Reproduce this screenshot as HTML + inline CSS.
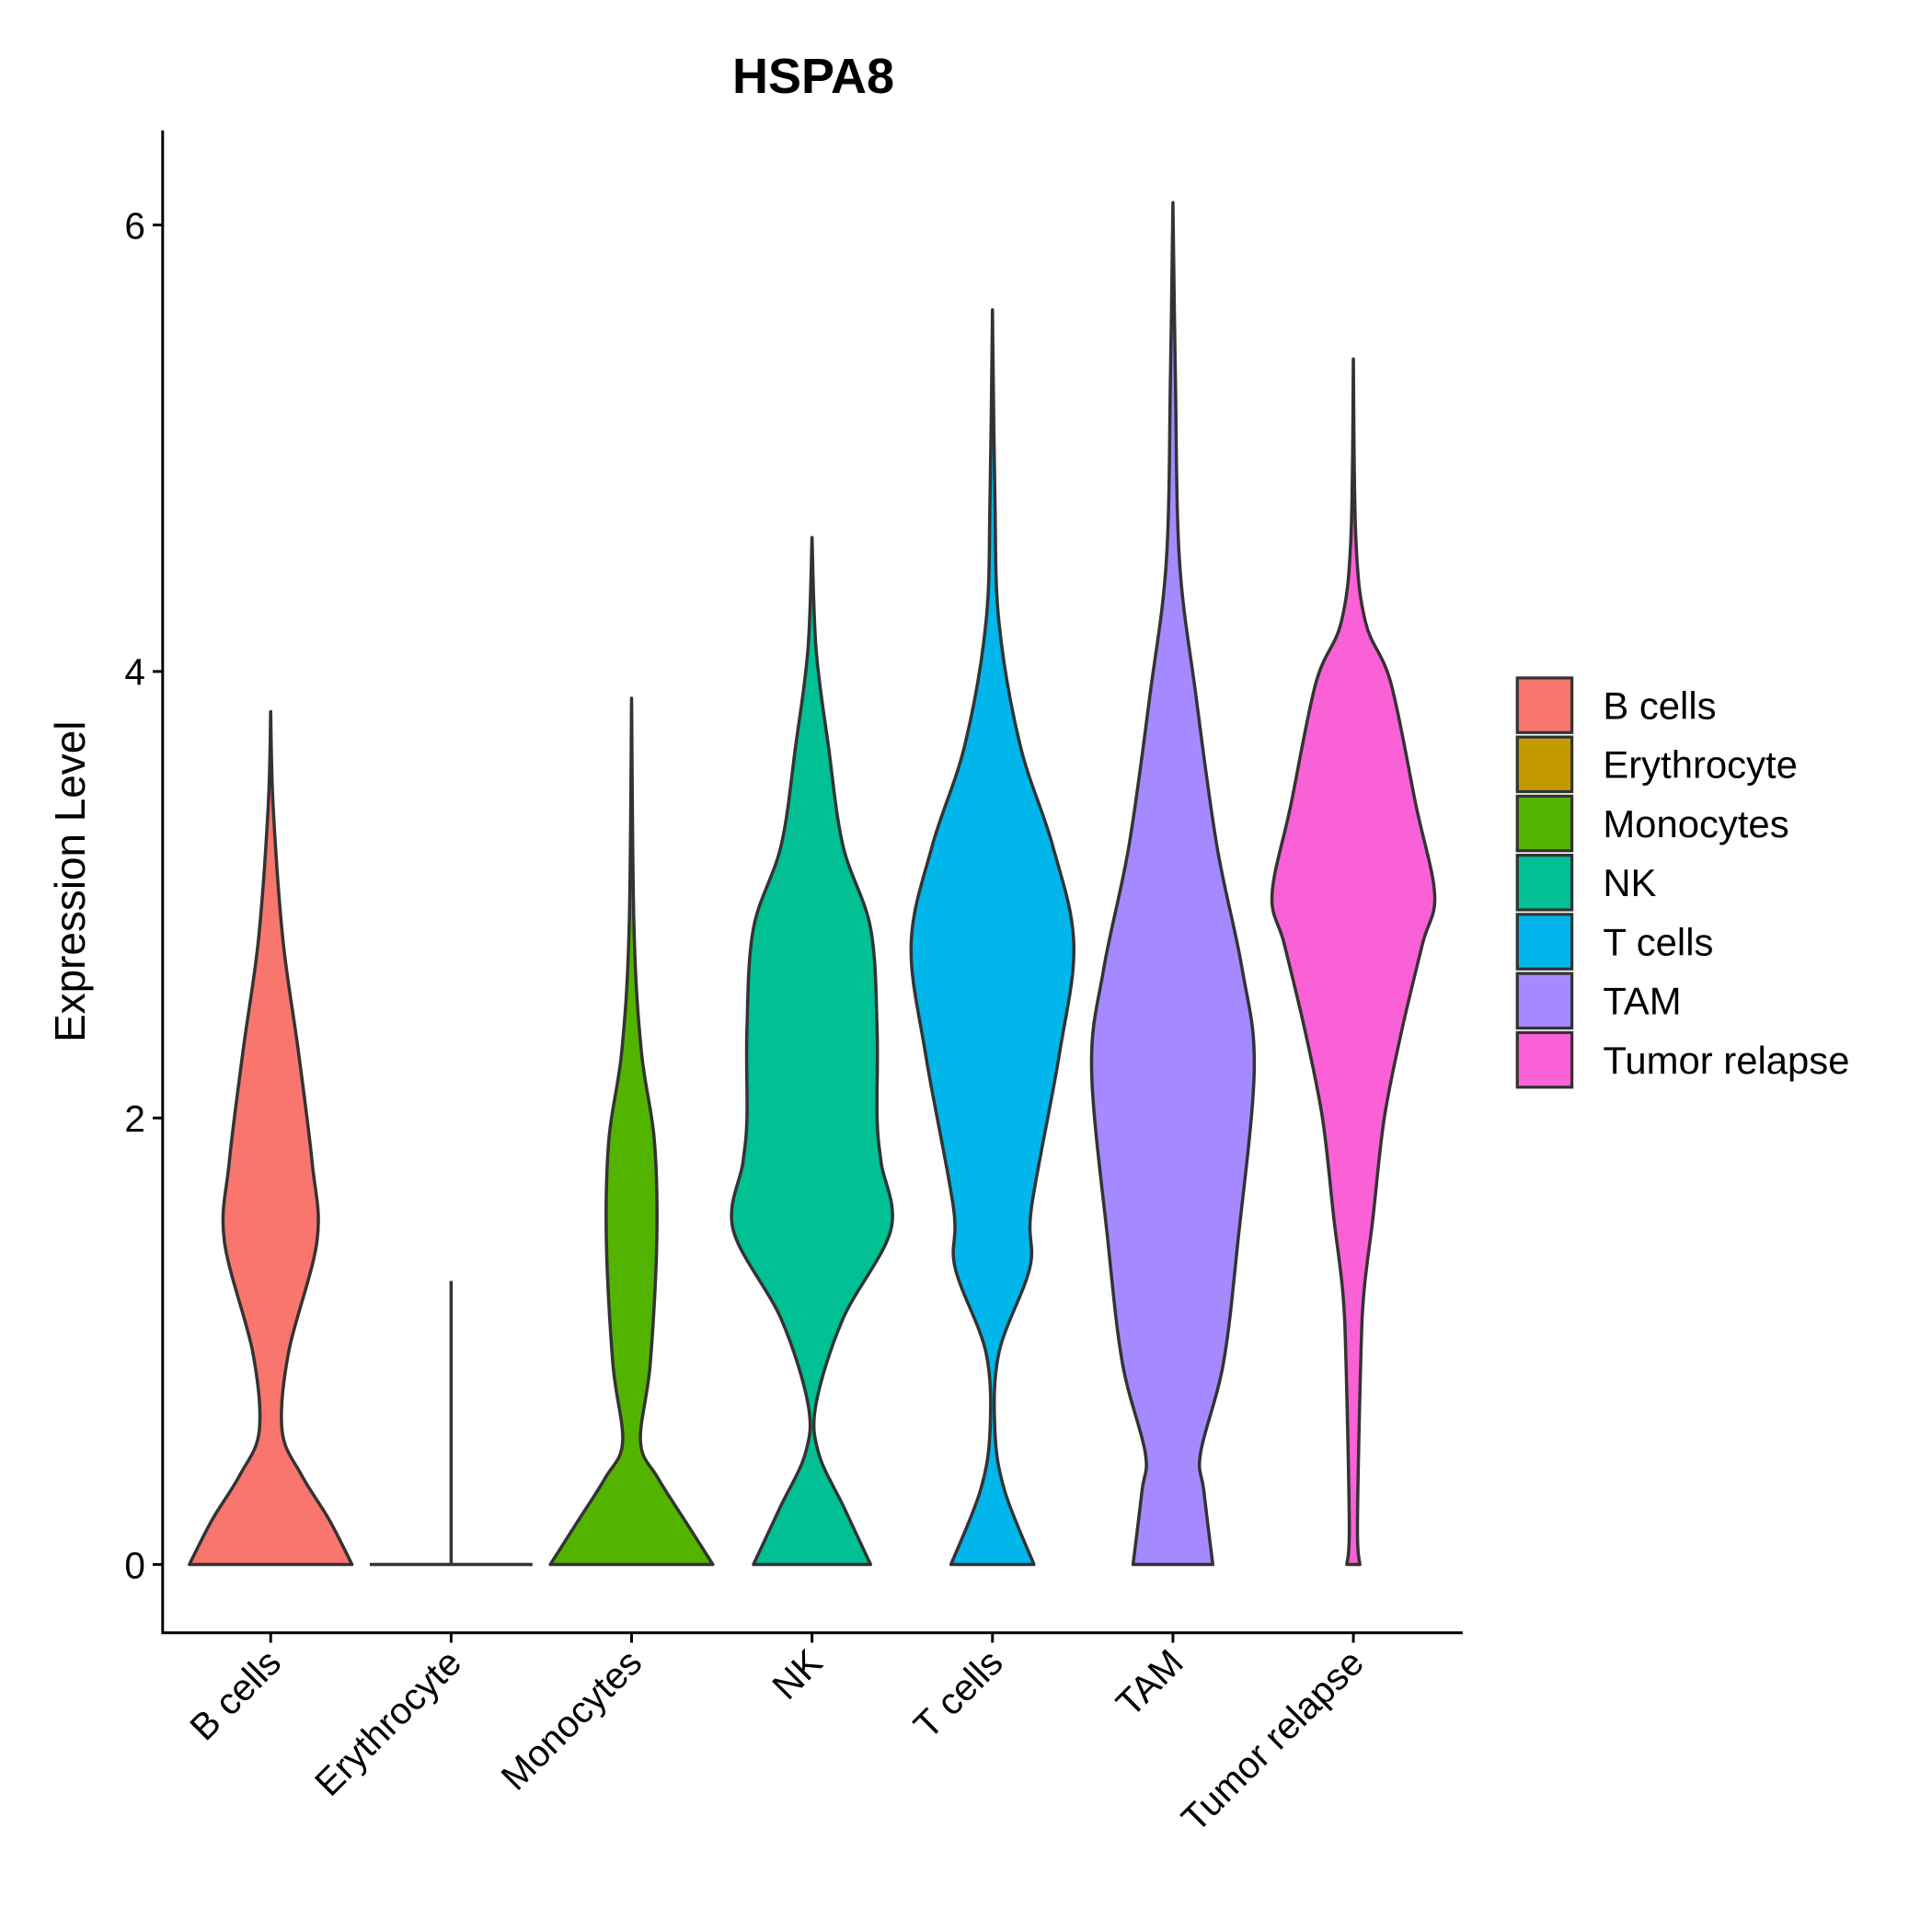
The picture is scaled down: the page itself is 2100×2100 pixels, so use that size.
<!DOCTYPE html>
<html><head><meta charset="utf-8"><style>html,body{margin:0;padding:0;background:#fff}svg{display:block}</style></head>
<body>
<svg id="chart" width="2100" height="2100" viewBox="0 0 1556 1556" xmlns="http://www.w3.org/2000/svg" font-family="'Liberation Sans', sans-serif">
<rect width="1556" height="1556" fill="#fff"/>
<text x="655" y="75" text-anchor="middle" font-size="40" font-weight="bold">HSPA8</text>
<text transform="translate(68,710) rotate(-90)" text-anchor="middle" font-size="34">Expression Level</text>
<g id="plot"></g>
<g id="legend"></g>
</svg>
<script>
const categories=["B cells","Erythrocyte","Monocytes","NK","T cells","TAM","Tumor relapse"];
const colors=["#F8766D","#C49A00","#53B400","#00C094","#00B6EB","#A58AFF","#FB61D7"];
const yTicks=[0,2,4,6];
// profiles: [expression value, relative density half-width (0..1)]
const profB=[[0,1],[0.2,0.72],[0.4,0.38],[0.6,0.14],[0.95,0.22],[1.45,0.57],[1.8,0.51],[2.3,0.34],[2.8,0.15],[3.4,0.03],[3.82,0]];
const profE=[[0,1],[0.001,0.0],[1.27,0]];
const profM=[[0,1],[0.2,0.65],[0.39,0.32],[0.55,0.11],[0.9,0.23],[1.45,0.31],[1.9,0.28],[2.3,0.12],[2.85,0.03],[3.88,0]];
const profNK=[[0,0.72],[0.25,0.4],[0.5,0.08],[0.72,0.05],[1.1,0.38],[1.5,0.97],[1.8,0.85],[2.0,0.8],[2.4,0.8],[2.85,0.72],[3.22,0.38],[3.67,0.2],[4.1,0.05],[4.6,0]];
const profT=[[0,0.51],[0.33,0.15],[0.6,0.03],[0.95,0.08],[1.33,0.46],[1.6,0.48],[2.28,0.82],[2.78,1.0],[3.22,0.74],[3.67,0.34],[4.22,0.08],[4.78,0.03],[5.62,0]];
const profTAM=[[0,0.49],[0.33,0.38],[0.5,0.34],[0.9,0.62],[1.45,0.8],[2.22,1.0],[2.67,0.85],[3.22,0.54],[3.9,0.28],[4.5,0.08],[5.33,0.03],[6.1,0]];
const profTR=[[0,0.08],[0.17,0.05],[0.9,0.09],[1.22,0.13],[1.55,0.24],[2.0,0.38],[2.4,0.6],[2.78,0.85],[3.0,1.0],[3.4,0.77],[3.95,0.46],[4.22,0.15],[4.6,0.03],[5.4,0]];
const profiles=[profB,profE,profM,profNK,profT,profTAM,profTR];

const NS="http://www.w3.org/2000/svg";
const X0=131,X1=1178,YT=105,YB=1315;
const y=v=>1260-v*179.8;
const x=i=>218+i*145.33;
const W=65.5;
const plot=document.getElementById('plot');
function mk(tag,attrs,parent){const e=document.createElementNS(NS,tag);for(const k in attrs)e.setAttribute(k,attrs[k]);(parent||plot).appendChild(e);return e;}
function smooth(pts){let d="M"+pts[0][0]+","+pts[0][1];for(let i=0;i<pts.length-1;i++){const p0=pts[Math.max(0,i-1)],p1=pts[i],p2=pts[i+1],p3=pts[Math.min(pts.length-1,i+2)];const c1=[p1[0]+(p2[0]-p0[0])/6,p1[1]+(p2[1]-p0[1])/6],c2=[p2[0]-(p3[0]-p1[0])/6,p2[1]-(p3[1]-p1[1])/6];d+=` C${c1[0]},${c1[1]} ${c2[0]},${c2[1]} ${p2[0]},${p2[1]}`;}return d;}
profiles.forEach((p,i)=>{
  const cx=x(i);
  const right=p.map(([v,w])=>[cx+w*W,y(v)]);
  const left=p.slice().reverse().map(([v,w])=>[cx-w*W,y(v)]);
  let d;
  if(i===1){d=`M${cx-W},${y(0)} L${cx+W},${y(0)} M${cx},${y(0)} L${cx},${y(p[p.length-1][0])}`;}
  else{d=smooth(right)+" L"+left[0][0]+","+left[0][1]+smooth(left).replace(/^M[^C]*/," ")+" Z";}
  const el=mk('path',{d:d,fill:colors[i],stroke:'#333','stroke-width':2.6,'stroke-linejoin':'round'});
  
  
});
const ax=mk('path',{d:`M${X0},${YT} L${X0},${YB} L${X1},${YB}`,fill:'none',stroke:'#000','stroke-width':2.2});


yTicks.forEach(t=>{
  const tk=mk('line',{x1:X0-8,x2:X0,y1:y(t),y2:y(t),stroke:'#000','stroke-width':2.2});
  
  
  const tl=mk('text',{x:X0-14,y:y(t)+11,'text-anchor':'end','font-size':30});
  tl.textContent=t;
  
  
});
categories.forEach((c,i)=>{
  const tk=mk('line',{x1:x(i),x2:x(i),y1:YB,y2:YB+8,stroke:'#000','stroke-width':2.2});
  
  
  const tl=mk('text',{transform:`translate(${x(i)+10},${YB+26}) rotate(-45)`,'text-anchor':'end','font-size':30});
  tl.textContent=c;
  
  
});
const lg=document.getElementById('legend');


categories.forEach((c,i)=>{
  const yy=546+i*47.6;
  const r=mk('rect',{x:1222,y:yy,width:44,height:44,fill:colors[i],stroke:'#333','stroke-width':2.4},lg);
  
  
  const t=mk('text',{x:1291,y:yy+33,'font-size':31},lg);
  t.textContent=c;
  
  
});
</script>
</body></html>
